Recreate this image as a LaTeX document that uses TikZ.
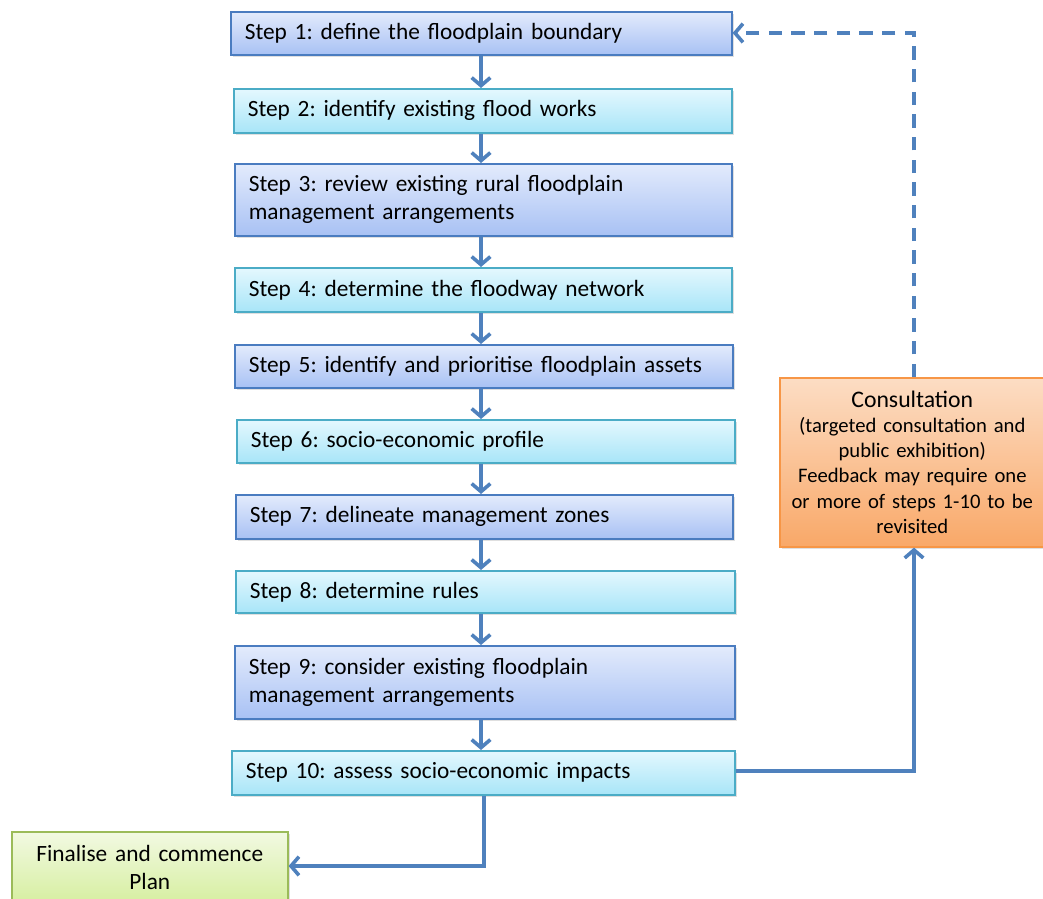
\documentclass[tikz,border=0pt]{standalone}
\usepackage{fontspec}
\setmainfont{Carlito}
\frenchspacing
\usetikzlibrary{arrows.meta,shadows}
\definecolor{arr}{HTML}{4F81BD}
\definecolor{bluetop}{HTML}{E3EBFC}
\definecolor{bluebot}{HTML}{A8C1F4}
\definecolor{blueline}{HTML}{4A7CC0}
\definecolor{cyantop}{HTML}{E4F8FE}
\definecolor{cyanbot}{HTML}{A8E5F8}
\definecolor{cyanline}{HTML}{4BACC6}
\definecolor{orgtop}{HTML}{FCDDC4}
\definecolor{orgbot}{HTML}{F9A868}
\definecolor{orgline}{HTML}{F79646}
\definecolor{grntop}{HTML}{F2F9E2}
\definecolor{grnbot}{HTML}{D6EFA0}
\definecolor{grnline}{HTML}{9BBB59}
\tikzset{
  px/.style={x=0.75pt,y=-0.75pt},
  boxbase/.style={rectangle, anchor=north west, line width=1.2pt,
    drop shadow={opacity=0.25, shadow xshift=1.5pt, shadow yshift=-1.5pt},
    font=\fontsize{17.5}{21}\selectfont},
  stepbox/.style={boxbase, align=left, inner xsep=10.5pt, inner ysep=0pt,
    text width=#1*0.75pt-21pt},
  bluestep/.style={stepbox=#1, draw=blueline, top color=bluetop, bottom color=bluebot},
  cyanstep/.style={stepbox=#1, draw=cyanline, top color=cyantop, bottom color=cyanbot},
  flow/.style={draw=arr, line width=2.7pt, -{Straight Barb[length=6pt,width=14pt,line width=2.7pt]}},
}
\begin{document}
\begin{tikzpicture}[px]
\useasboundingbox (0,0) rectangle (1043,899);
\clip (0,0) rectangle (1043,899);
\node[bluestep=501, minimum height=43*0.75pt] (s1) at (230,11) {Step 1: define the floodplain boundary};
\node[cyanstep=498, minimum height=44*0.75pt] (s2) at (233,88) {Step 2: identify existing flood works};
\node[bluestep=497, minimum height=72*0.75pt] (s3) at (234,163) {Step 3: review existing rural floodplain\\management arrangements};
\node[cyanstep=497, minimum height=44*0.75pt] (s4) at (234,267) {Step 4: determine the floodway network};
\node[bluestep=498, minimum height=43*0.75pt] (s5) at (234,344) {Step 5: identify and prioritise floodplain assets};
\node[cyanstep=498, minimum height=43*0.75pt] (s6) at (236,419) {Step 6: socio-economic profile};
\node[bluestep=497, minimum height=44*0.75pt] (s7) at (235,494) {Step 7: delineate management zones};
\node[cyanstep=499, minimum height=42*0.75pt] (s8) at (235,570) {Step 8: determine rules};
\node[bluestep=500, minimum height=73*0.75pt] (s9) at (234,645) {Step 9: consider existing floodplain\\management arrangements};
\node[cyanstep=503, minimum height=44*0.75pt] (s10) at (231,750) {Step 10: assess socio-economic impacts};
\node[boxbase, draw=grnline, top color=grntop, bottom color=grnbot, align=center,
  text width=276*0.75pt-12pt, inner xsep=6pt, inner ysep=0pt, minimum height=72*0.75pt] (fin) at (11,831) {Finalise and commence\\Plan};
\node[boxbase, draw=orgline, top color=orgtop, bottom color=orgbot, align=center,
  text width=265*0.75pt-8pt, inner xsep=4pt, inner ysep=0pt, minimum height=169*0.75pt,
  font=\fontsize{15.5}{18.8}\selectfont] (con) at (779,377)
  {{\fontsize{17.8}{20}\selectfont Consultation}\\(targeted consultation and\\public exhibition)\\Feedback may require one\\or more of steps 1-10 to be\\revisited};
\coordinate (c1) at (481,0);
\foreach \a/\b in {s1/s2,s2/s3,s3/s4,s4/s5,s5/s6,s6/s7,s7/s8,s8/s9,s9/s10}{
  \draw[flow] (\a.south -| c1) -- (\b.north -| c1);
}
\coordinate (c2) at (484,866);
\draw[flow] (s10.south -| c2) -- (c2) -- (fin.east |- c2);
\coordinate (c3) at (914,771);
\draw[flow] (s10.east |- c3) -- (c3) -- (con.south -| c3);
\coordinate (c4) at (914,33);
\draw[flow, dash pattern=on 10pt off 7pt] (con.north -| c4) -- (c4) -- (s1.east |- c4);
\end{tikzpicture}
\end{document}
